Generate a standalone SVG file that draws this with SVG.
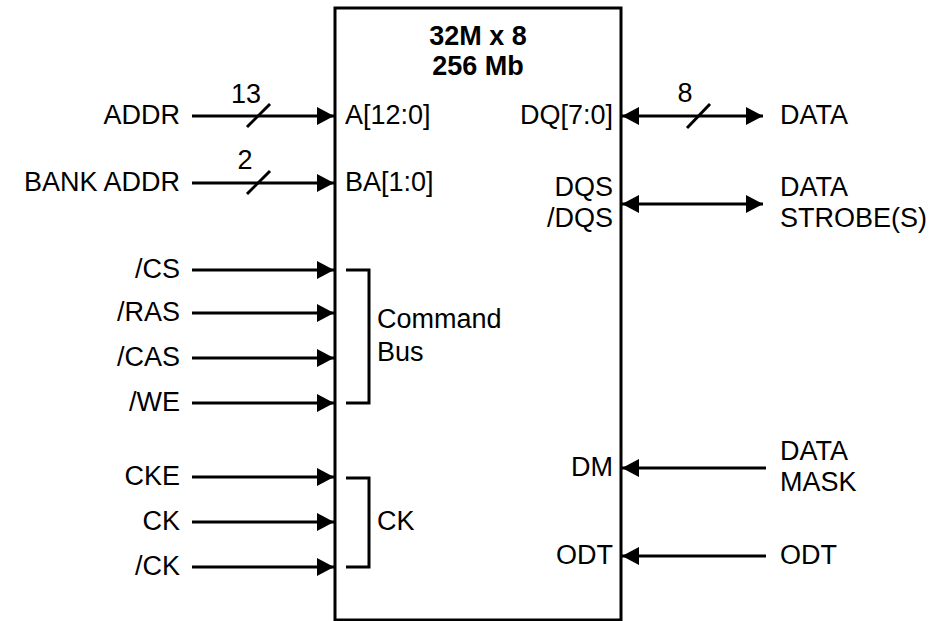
<svg xmlns="http://www.w3.org/2000/svg" width="944" height="621" viewBox="0 0 944 621">
<defs>
<marker id="ah" markerUnits="userSpaceOnUse" markerWidth="20" markerHeight="20" refX="17" refY="9" orient="auto-start-reverse">
<path d="M0,0 L17,9 L0,18 Z" fill="#000"/>
</marker>
<style>
text{font-family:"Liberation Sans",Arial,sans-serif;font-size:27px;fill:#000}
.b{font-weight:bold}
.r{text-anchor:end}
.m{text-anchor:middle}
.w{stroke:#000;stroke-width:3;fill:none}
.in{marker-end:url(#ah)}
.bi{marker-start:url(#ah);marker-end:url(#ah)}
</style>
</defs>
<rect width="944" height="621" fill="#fff"/>
<g id="chip">
<rect x="335" y="8" width="286" height="612" class="w"/>
<text x="478" y="45" class="b m">32M x 8</text>
<text x="478" y="75" class="b m">256 Mb</text>
<text x="345" y="124">A[12:0]</text>
<text x="345" y="191">BA[1:0]</text>
<text x="613" y="124" class="r">DQ[7:0]</text>
<text x="613" y="196" class="r">DQS</text>
<text x="613" y="227" class="r">/DQS</text>
<text x="613" y="476" class="r">DM</text>
<text x="613" y="564" class="r">ODT</text>
</g>
<g id="labels">
<text x="180" y="124" class="r">ADDR</text>
<text x="180" y="191" class="r">BANK ADDR</text>
<text x="180" y="278" class="r">/CS</text>
<text x="180" y="321" class="r">/RAS</text>
<text x="180" y="366" class="r">/CAS</text>
<text x="180" y="411" class="r">/WE</text>
<text x="180" y="485" class="r">CKE</text>
<text x="180" y="530" class="r">CK</text>
<text x="180" y="575" class="r">/CK</text>
<text x="780" y="124">DATA</text>
<text x="780" y="196">DATA</text>
<text x="780" y="227">STROBE(S)</text>
<text x="780" y="460">DATA</text>
<text x="780" y="491">MASK</text>
<text x="780" y="564">ODT</text>
<text x="377" y="328">Command</text>
<text x="377" y="361">Bus</text>
<text x="377" y="530">CK</text>
<text x="246" y="103" class="m">13</text>
<text x="245" y="169" class="m">2</text>
<text x="685" y="102" class="m">8</text>
</g>
<g id="connectors">
<line x1="192" y1="116" x2="334" y2="116" class="w in"/>
<line x1="192" y1="183" x2="334" y2="183" class="w in"/>
<line x1="192" y1="270" x2="334" y2="270" class="w in"/>
<line x1="192" y1="313" x2="334" y2="313" class="w in"/>
<line x1="192" y1="358" x2="334" y2="358" class="w in"/>
<line x1="192" y1="403" x2="334" y2="403" class="w in"/>
<line x1="192" y1="477" x2="334" y2="477" class="w in"/>
<line x1="192" y1="522" x2="334" y2="522" class="w in"/>
<line x1="192" y1="567" x2="334" y2="567" class="w in"/>
<line x1="622" y1="116" x2="763" y2="116" class="w bi"/>
<line x1="622" y1="204" x2="763" y2="204" class="w bi"/>
<line x1="766" y1="468" x2="622" y2="468" class="w in"/>
<line x1="766" y1="556" x2="622" y2="556" class="w in"/>
<line x1="247" y1="127" x2="270" y2="104" class="w"/>
<line x1="247" y1="194" x2="270" y2="171" class="w"/>
<line x1="687" y1="128" x2="710" y2="104" class="w"/>
<path d="M346,270 H369 V403 H346" class="w"/>
<path d="M346,478 H369 V567 H346" class="w"/>
</g>
</svg>
